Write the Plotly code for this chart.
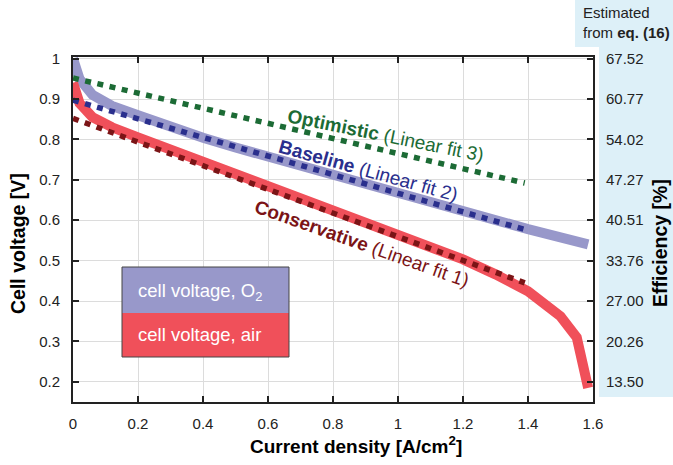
import plotly.graph_objects as go

# ---------------- data ----------------
o2_current = [0, 0.02, 0.06, 0.12, 0.2, 0.3, 0.4, 0.5, 0.6, 0.8, 1.0, 1.2, 1.4, 1.585]
o2_voltage = [1.0, 0.95, 0.91, 0.883, 0.86, 0.83, 0.804, 0.78, 0.757, 0.712, 0.665, 0.62, 0.578, 0.54]

air_current = [0, 0.02, 0.06, 0.12, 0.2, 0.3, 0.4, 0.5, 0.6, 0.7, 0.8, 0.9, 1.0, 1.1, 1.2, 1.3, 1.4, 1.5, 1.55, 1.585]
air_voltage = [0.94, 0.89, 0.855, 0.83, 0.805, 0.775, 0.745, 0.714, 0.685, 0.656, 0.627, 0.598, 0.568, 0.537, 0.503, 0.466, 0.424, 0.362, 0.31, 0.185]

fit_current = [0, 1.39]
fit1_voltage = [0.852, 0.445]   # Conservative (Linear fit 1)
fit2_voltage = [0.897, 0.577]   # Baseline (Linear fit 2)
fit3_voltage = [0.952, 0.692]   # Optimistic (Linear fit 3)

x_ticks = [0, 0.2, 0.4, 0.6, 0.8, 1, 1.2, 1.4, 1.6]
y_ticks = [0.2, 0.3, 0.4, 0.5, 0.6, 0.7, 0.8, 0.9, 1.0]
y_tick_labels = ["0.2", "0.3", "0.4", "0.5", "0.6", "0.7", "0.8", "0.9", "1"]
eff_tick_labels = ["13.50", "20.26", "27.00", "33.76", "40.51", "47.27", "54.02", "60.77", "67.52"]

# ---------------- style ----------------
FONT = "Liberation Sans, Arial, Helvetica, sans-serif"
C_O2 = "#9898CA"
C_AIR = "#F0505A"
C_OPT = "#1C6B35"
C_BASE = "#2A2F8D"
C_CONS = "#7B1416"
C_PANEL = "#DDF0F8"
C_AX = "#222222"
C_GRID = "#DCDCDC"

fig = go.Figure()
fig.add_trace(go.Scatter(x=o2_current, y=o2_voltage, mode="lines",
                         line=dict(color=C_O2, width=10), showlegend=False, hoverinfo="skip"))
fig.add_trace(go.Scatter(x=air_current, y=air_voltage, mode="lines",
                         line=dict(color=C_AIR, width=10), showlegend=False, hoverinfo="skip"))
for v, c in [(fit3_voltage, C_OPT), (fit2_voltage, C_BASE), (fit1_voltage, C_CONS)]:
    fig.add_trace(go.Scatter(x=fit_current, y=v, mode="lines",
                             line=dict(color=c, width=5.5, dash="6px,6.5px"),
                             showlegend=False, hoverinfo="skip"))
# dummy trace to attach the right axis
fig.add_trace(go.Scatter(x=[None], y=[None], yaxis="y2", showlegend=False, hoverinfo="skip"))

axis_common = dict(showline=True, linecolor=C_AX, linewidth=2,
                   ticks="inside", ticklen=6, tickwidth=2, tickcolor=C_AX,
                   showgrid=True, gridcolor=C_GRID, gridwidth=1, zeroline=False,
                   tickfont=dict(family=FONT, size=15, color=C_AX))

fig.update_layout(
    width=673, height=465,
    margin=dict(l=73, r=80, t=57, b=63),
    paper_bgcolor="white", plot_bgcolor="white",
    xaxis=dict(range=[0, 1.6], tickvals=x_ticks, mirror="ticks",
               ticklabelstandoff=7, **axis_common),
    yaxis=dict(range=[0.15, 1.004], tickvals=y_ticks, ticktext=y_tick_labels,
               mirror="ticks", ticklabelstandoff=8, **axis_common),
    yaxis2=dict(range=[0.15, 1.004], tickvals=y_ticks, ticktext=eff_tick_labels,
                overlaying="y", side="right", anchor="x", showgrid=False,
                showline=True, linecolor=C_AX, linewidth=2,
                ticks="inside", ticklen=6, tickwidth=2, tickcolor=C_AX, zeroline=False,
                ticklabelstandoff=8,
                tickfont=dict(family=FONT, size=15, color=C_AX)),
    font=dict(family=FONT, color=C_AX),
)

L, R, T, B = 73, 593, 57, 402
def px(x):
    return (x - L) / (R - L)
def py(y):
    return (B - y) / (B - T)

shapes = [
    # right light-blue panel
    dict(type="rect", xref="paper", yref="paper", x0=px(599), x1=px(673), y0=py(397), y1=py(0),
         fillcolor=C_PANEL, line=dict(width=0), layer="below"),
    dict(type="rect", xref="paper", yref="paper", x0=px(575), x1=px(673), y0=py(47), y1=py(0),
         fillcolor=C_PANEL, line=dict(width=0), layer="below"),
    # legend box
    dict(type="rect", xref="paper", yref="paper", x0=px(122), x1=px(289), y0=py(313), y1=py(267),
         fillcolor=C_O2, line=dict(width=0), layer="above"),
    dict(type="rect", xref="paper", yref="paper", x0=px(122), x1=px(289), y0=py(357), y1=py(313),
         fillcolor=C_AIR, line=dict(width=0), layer="above"),
    dict(type="rect", xref="paper", yref="paper", x0=px(122), x1=px(289), y0=py(357), y1=py(267),
         fillcolor="rgba(0,0,0,0)", line=dict(width=1, color="#444444"), layer="above"),
]
fig.update_layout(shapes=shapes)

ann = []
ann.append(dict(text="<b>Optimistic</b> (Linear fit 3)", x=px(386), y=py(135), textangle=11.5,
                font=dict(family=FONT, size=19, color=C_OPT)))
ann.append(dict(text="<b>Baseline</b> (Linear fit 2)", x=px(368), y=py(170), textangle=15.5,
                font=dict(family=FONT, size=19, color=C_BASE)))
ann.append(dict(text="<b>Conservative</b> (Linear fit 1)", x=px(362), y=py(243), textangle=19.5,
                font=dict(family=FONT, size=19, color=C_CONS)))
ann.append(dict(text="cell voltage, O<sub>2</sub>", x=px(136), y=py(292), xanchor="left",
                font=dict(family=FONT, size=18.5, color="white")))
ann.append(dict(text="cell voltage, air", x=px(136), y=py(334), xanchor="left",
                font=dict(family=FONT, size=18.5, color="white")))
ann.append(dict(text="<b>Cell voltage [V]</b>", x=px(18), y=py(244), textangle=-90,
                font=dict(family=FONT, size=19.5, color="black")))
ann.append(dict(text="<b>Efficiency [%]</b>", x=px(660), y=py(243), textangle=-90,
                font=dict(family=FONT, size=19.5, color="black")))
ann.append(dict(text="<b>Current density [A/cm<sup>2</sup>]</b>", x=px(356), y=py(445),
                font=dict(family=FONT, size=19, color="black")))
ann.append(dict(text="Estimated<br>from <b>eq. (16)</b>", x=px(581), y=py(2), xanchor="left",
                yanchor="top", align="left",
                font=dict(family=FONT, size=15, color=C_AX)))
for a in ann:
    a.setdefault("xanchor", "center")
    a.setdefault("yanchor", "middle")
    a.update(xref="paper", yref="paper", showarrow=False)
fig.update_layout(annotations=ann)

fig.write_html("out.html", config={"displayModeBar": False},
               post_script="document.body.style.margin='0';document.body.style.padding='0';"
                           "document.body.style.overflow='hidden';")
